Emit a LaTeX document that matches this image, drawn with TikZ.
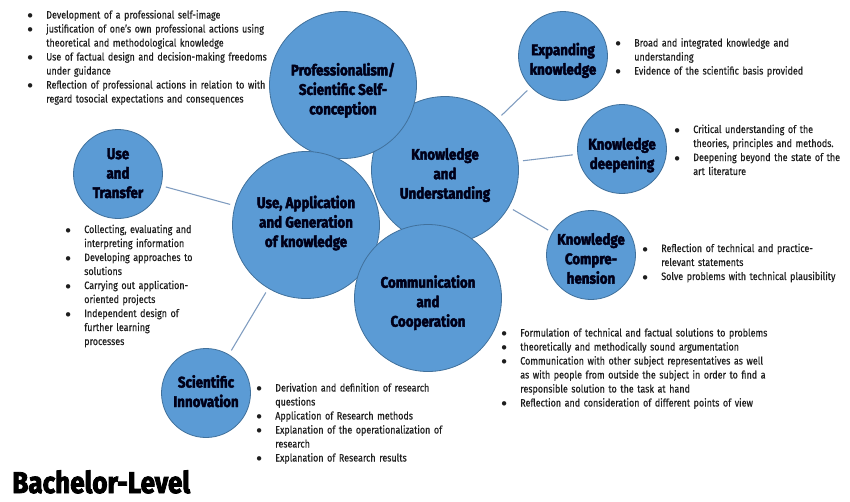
\documentclass[tikz,border=0pt]{standalone}
\usepackage{fontspec}
\setmainfont{Fira Sans}[FakeStretch=0.84, UprightFeatures={FakeBold=0.4}]
\newfontfamily\headfont{Fira Sans}[FakeStretch=0.87, BoldFeatures={FakeBold=2.8}]
\usepackage{enumitem}
\setlist[itemize]{label=$\bullet$, leftmargin=12pt, labelsep=10pt, itemsep=0pt, topsep=0pt, parsep=0pt, partopsep=0pt}

\definecolor{bubblefill}{HTML}{5B9BD5}
\definecolor{bubbleline}{HTML}{41719C}
\definecolor{linkline}{HTML}{7F9CC0}
\definecolor{notetext}{HTML}{1E1E1E}

\tikzset{
	bubble/.style={circle, draw=bubbleline, fill=bubblefill, line width=0.6pt, inner sep=0pt, align=center, text=black!90!blue, font=\headfont\bfseries\fontsize{11.5}{14.6}\selectfont},
	bigbubble/.style={bubble, minimum size=110.25pt},
	smallbubble/.style={bubble, minimum size=66.75pt},
	textdrop/.style={text depth=0pt, text height=#1},
	link/.style={draw=linkline, line width=0.8pt, shorten <=3.5pt, shorten >=3.5pt},
	notes/.style={anchor=base west, yshift=10.5pt, inner sep=0pt, text width=#1, align=left, text=notetext, font=\fontsize{8}{10.5}\selectfont}
}

\begin{document}
\begin{tikzpicture}[x=0.75pt,y=-0.75pt]
	\useasboundingbox[fill=white] (0,0) rectangle (850,501);

	% the four big circles
	\node[bigbubble, textdrop=43pt] (ku) at (445,170) {Knowledge\\and\\Understanding};
	\node[bigbubble, textdrop=44pt] (prof) at (343,85) {Professionalism/\\Scientific Self-\\conception};
	\node[bigbubble, textdrop=33pt] (uag) at (306,225) {Use, Application\\and Generation\\of knowledge};
	\node[bigbubble, textdrop=43pt] (comm) at (428,298) {Communication\\and\\Cooperation};

	% the small ones
	\node[smallbubble, textdrop=28pt] (exp) at (563,56) {Expanding\\knowledge};
	\node[smallbubble, textdrop=30pt] (deep) at (622,149) {Knowledge\\deepening};
	\node[smallbubble, textdrop=43pt] (comp) at (591,255) {Knowledge\\Compre-\\hension};
	\node[smallbubble, textdrop=36pt] (ut) at (118,174) {Use\\and\\Transfer};
	\node[smallbubble, textdrop=21pt] (sci) at (206,393) {Scientific\\Innovation};

	\foreach \a/\b in {ku/exp, ku/deep, ku/comp, uag/ut, uag/sci}
		\draw[link] (\a) -- (\b);

	\node[notes=260pt] (profnotes) at (30,18.5) {\begin{itemize}
		\item Development of a professional self-image
		\item justification of one’s own professional actions using\\theoretical and methodological knowledge
		\item Use of factual design and decision-making freedoms\\under guidance
		\item Reflection of professional actions in relation to with\\regard tosocial expectations and consequences
	\end{itemize}};

	\node[notes=200pt] (expnotes) at (618,46.5) {\begin{itemize}
		\item Broad and integrated knowledge and\\understanding
		\item Evidence of the scientific basis provided
	\end{itemize}};

	\node[notes=200pt] (deepnotes) at (677,133) {\begin{itemize}
		\item Critical understanding of the\\theories, principles and methods.
		\item Deepening beyond the state of the\\art literature
	\end{itemize}};

	\node[notes=200pt] (compnotes) at (645,252) {\begin{itemize}
		\item Reflection of technical and practice-\\relevant statements
		\item Solve problems with technical plausibility
	\end{itemize}};

	\node[notes=200pt] (utnotes) at (68,233) {\begin{itemize}
		\item Collecting, evaluating and\\interpreting information
		\item Developing approaches to\\solutions
		\item Carrying out application-\\oriented projects
		\item Independent design of\\further learning\\processes
	\end{itemize}};

	\node[notes=260pt] (commnotes) at (504,336.5) {\begin{itemize}
		\item Formulation of technical and factual solutions to problems
		\item theoretically and methodically sound argumentation
		\item Communication with other subject representatives as well\\as with people from outside the subject in order to find a\\responsible solution to the task at hand
		\item Reflection and consideration of different points of view
	\end{itemize}};

	\node[notes=220pt] (scinotes) at (259,391.5) {\begin{itemize}
		\item Derivation and definition of research\\questions
		\item Application of Research methods
		\item Explanation of the operationalization of\\research
		\item Explanation of Research results
	\end{itemize}};

	\node[anchor=base west, inner sep=0pt, font=\headfont\bfseries\fontsize{22.5}{24}\selectfont] (level) at (12,493) {Bachelor-Level};
\end{tikzpicture}
\end{document}
